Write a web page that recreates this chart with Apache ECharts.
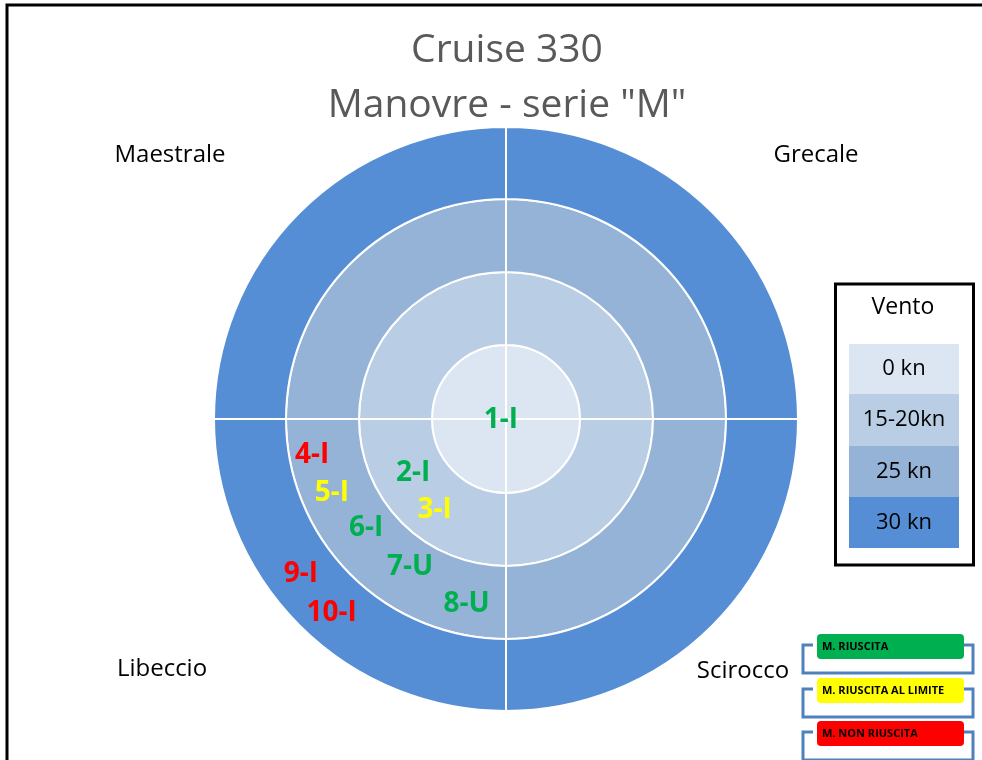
<!DOCTYPE html>
<html>
<head>
<meta charset="utf-8">
<script src="https://cdn.jsdelivr.net/npm/echarts@6/dist/echarts.min.js"></script>
<style>
  html, body { margin: 0; padding: 0; background: #fff; }
  #chart { width: 982px; height: 760px; }
</style>
</head>
<body>
<div id="chart"></div>
<script>
// dati
const titoli = ['Cruise 330', 'Manovre - serie "M"']
const settori = ['Grecale', 'Maestrale', 'Libeccio', 'Scirocco']
const ventoLivelli = ['0 kn', '15-20kn', '25 kn', '30 kn']
const ventoColori = ['#DCE6F2', '#B9CDE5', '#95B3D7', '#558ED5']
// manovre: raggio in "anelli" (0-4), angolo in gradi (0 = est, antiorario)
const manovre = ['1-I', '2-I', '3-I', '4-I', '5-I', '6-I', '7-U', '8-U', '9-I', '10-I']
const raggio = [0.07, 1.47, 1.59, 2.70, 2.59, 2.43, 2.41, 2.59, 3.52, 3.57]
const angolo = [190, 210, 232, 190.5, 203, 218, 237, 258, 217, 228]
const esito = [0, 0, 1, 2, 1, 0, 0, 0, 2, 2]
const esiti = ['M. RIUSCITA', 'M. RIUSCITA AL LIMITE', 'M. NON RIUSCITA']
const esitiColori = ['#00B050', '#FFFF00', '#FF0000']

const FONT = '"Open Sans", "Noto Sans", sans-serif'
const cx = 506
const cy = 419
const ringR = [0, 74, 147, 220, 292]

const myChart = echarts.init(document.getElementById('chart'), null, { renderer: 'canvas' })

// anelli del vento
const anelli = ventoLivelli.map((liv, i) => ({
  name: liv,
  type: 'pie',
  center: [cx, cy],
  radius: [ringR[i], ringR[i + 1]],
  startAngle: 90,
  silent: true,
  animation: false,
  label: { show: false },
  labelLine: { show: false },
  itemStyle: { color: ventoColori[i], borderColor: '#fff', borderWidth: 2 },
  data: settori.map(s => ({ name: s, value: 1 }))
}))

// punti manovra, uno per esito
const punti = esiti.map((e, k) => ({
  name: e,
  type: 'scatter',
  coordinateSystem: 'polar',
  symbolSize: 1,
  z: 10,
  animation: false,
  silent: true,
  itemStyle: { color: esitiColori[k], opacity: 1 },
  label: {
    show: true,
    position: 'inside',
    formatter: p => p.name,
    color: esitiColori[k],
    opacity: 1,
    textBorderWidth: 0,
    fontFamily: FONT,
    fontWeight: 'bold',
    fontSize: 28
  },
  data: manovre.map((m, i) => ({ name: m, value: [raggio[i], angolo[i]] })).filter((d, i) => esito[i] === k)
}))

// decorazioni: cornice, nomi venti, legenda vento, legenda esiti
const graphics = []
graphics.push({
  type: 'polyline',
  shape: { points: [[7, 760], [7, 5], [982, 5]] },
  style: { stroke: '#000', lineWidth: 3, fill: null }
})
graphics.push({
  type: 'text',
  x: 507,
  y: 23,
  style: {
    text: titoli.join('\n'),
    fill: '#595959',
    font: '39px ' + FONT,
    lineHeight: 55,
    align: 'center',
    verticalAlign: 'top'
  }
})
const settoriPos = [[816, 155], [170, 155], [162, 669], [743, 671]]
settori.forEach((s, i) => {
  graphics.push({
    type: 'text',
    x: settoriPos[i][0],
    y: settoriPos[i][1],
    style: { text: s, fill: '#000', font: '24px ' + FONT, align: 'center', verticalAlign: 'middle' }
  })
})
graphics.push({
  type: 'rect',
  shape: { x: 835.5, y: 284, width: 138, height: 281 },
  style: { fill: '#fff', stroke: '#000', lineWidth: 3 }
})
graphics.push({
  type: 'text',
  x: 903,
  y: 307,
  style: { text: 'Vento', fill: '#000', font: '23px ' + FONT, align: 'center', verticalAlign: 'middle' }
})
const swY = [344, 394, 446, 497, 548]
ventoLivelli.forEach((liv, i) => {
  graphics.push({
    type: 'rect',
    shape: { x: 849, y: swY[i], width: 110, height: swY[i + 1] - swY[i] },
    style: { fill: ventoColori[i] }
  })
  graphics.push({
    type: 'text',
    x: 904,
    y: (swY[i] + swY[i + 1]) / 2,
    style: { text: liv, fill: '#000', font: '22px ' + FONT, align: 'center', verticalAlign: 'middle' }
  })
})
const esY = [634, 678, 721]
esiti.forEach((e, i) => {
  const y0 = esY[i]
  graphics.push({
    type: 'polyline',
    shape: { points: [[813, y0 + 11], [803, y0 + 11], [803, y0 + 39], [973, y0 + 39], [973, y0 + 11], [964, y0 + 11]] },
    style: { stroke: '#4F81BD', lineWidth: 3, fill: null }
  })
  graphics.push({
    type: 'rect',
    shape: { x: 817, y: y0, width: 147, height: 25, r: 4 },
    style: { fill: esitiColori[i] }
  })
  graphics.push({
    type: 'text',
    x: 822,
    y: y0 + 12.5,
    style: { text: e, fill: '#000', font: 'bold 11px ' + FONT, align: 'left', verticalAlign: 'middle' }
  })
})

myChart.setOption({
  backgroundColor: '#fff',
  animation: false,
  polar: { center: [cx, cy], radius: ringR[4] },
  radiusAxis: { type: 'value', min: 0, max: 4, show: false },
  angleAxis: { type: 'value', min: 0, max: 360, startAngle: 0, clockwise: false, show: false },
  series: anelli.concat(punti),
  graphic: graphics
})
</script>
</body>
</html>
